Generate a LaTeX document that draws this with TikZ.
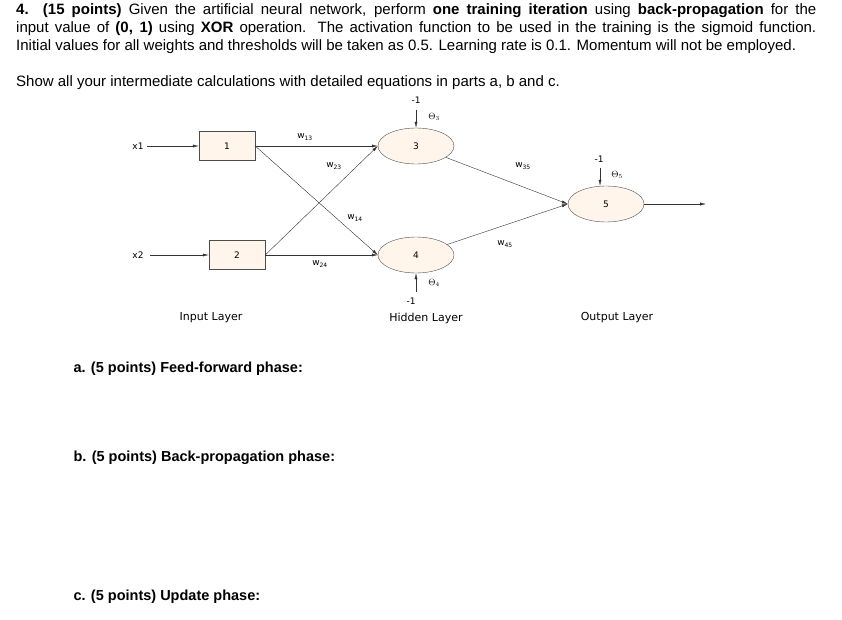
\documentclass[tikz,border=0pt]{standalone}
\usepackage{fontspec}
\setmainfont{Liberation Sans}
\newfontfamily\diag{DejaVu Sans}
\usetikzlibrary{arrows.meta, shapes.geometric}
\begin{document}
\begin{tikzpicture}[x=1pt, y=-1pt,
  inp/.style={rectangle, draw=black!70, fill=orange!8, minimum width=56pt, minimum height=29pt, font=\diag\fontsize{9}{10}\selectfont},
  neuron/.style={ellipse, draw=black!70, fill=orange!8, minimum width=76pt, minimum height=36pt, inner sep=0pt, font=\diag\fontsize{9}{10}\selectfont},
  lbl/.style={font=\diag\fontsize{9}{10}\selectfont},
  layer/.style={font=\diag\fontsize{11}{13}\selectfont},
  wire/.style={draw=black!80, -{Latex[length=6pt, width=3pt]}},
  part/.style={anchor=west, font=\bfseries\fontsize{14.5}{17}\selectfont}
]
\useasboundingbox (0,0) rectangle (842,620);

% question text
\node[anchor=north west, inner sep=0pt, text width=800pt, align=justify, font=\fontsize{15}{18}\selectfont] (Q) at (16,3)
 {\textbf{4. (15 points)} Given the artificial neural network, perform \textbf{one training iteration} using \textbf{back-propagation} for the\linebreak input value of \textbf{(0, 1)} using \textbf{XOR} operation. The activation function to be used in the training is the sigmoid function.\linebreak Initial values for all weights and thresholds will be taken as 0.5. Learning rate is 0.1. Momentum will not be employed.};
\node[anchor=west, inner sep=0pt, font=\fontsize{15}{18}\selectfont] (S) at (16,83)
 {Show all your intermediate calculations with detailed equations in parts a, b and c.};

% neurons
\node[inp] (n1) at (227,146) {1};
\node[inp] (n2) at (237,255) {2};
\node[neuron] (n3) at (416,146) {3};
\node[neuron] (n4) at (416,255) {4};
\node[neuron] (n5) at (606,204) {5};

% inputs, biases, output
\node[lbl] (x1) at (138,146) {x1};
\node[lbl] (x2) at (138,255) {x2};
\coordinate (b3) at (416,110);
\coordinate (b4) at (416,292);
\coordinate (b5) at (600,168);
\coordinate (out) at (706,204);
\node[lbl] (m3) at (416,100) {-1};
\node[lbl] (m4) at (411,301) {-1};
\node[lbl] (m5) at (599,159) {-1};
\node[lbl] (t3) at (434,117) {$\Theta_3$};
\node[lbl] (t4) at (434,283) {$\Theta_4$};
\node[lbl] (t5) at (617,175) {$\Theta_5$};

\draw[wire] (x1) -- (n1);
\draw[wire] (x2) ++(12,0) -- (n2);
\draw[wire] (b3) -- (n3);
\draw[wire] (b4) -- (n4);
\draw[wire] (b5) -- (n5.north -| b5);
\draw[wire] (n5) -- (out);

% weights
\draw[wire] (n1.east) -- (n3.west);
\draw[wire] (n1.east) -- (n4.west);
\draw[wire] (n2.east) -- (n3.west);
\draw[wire] (n2.east) -- (n4.west);
\draw[wire] (n3) -- (n5.west);
\draw[wire] (n4) -- (n5.west);

\node[lbl] (w13) at (305,137) {w\textsubscript{13}};
\node[lbl] (w23) at (334,166) {w\textsubscript{23}};
\node[lbl] (w14) at (355,218) {w\textsubscript{14}};
\node[lbl] (w24) at (320,264) {w\textsubscript{24}};
\node[lbl] (w35) at (523,166) {w\textsubscript{35}};
\node[lbl] (w45) at (505,244) {w\textsubscript{45}};

% layer names
\node[layer] (L1) at (211,318) {Input Layer};
\node[layer] (L2) at (426,318) {Hidden Layer};
\node[layer] (L3) at (617,318) {Output Layer};

% parts
\node[part] (pa) at (70,369) {a. (5 points) Feed-forward phase:};
\node[part] (pb) at (70,458) {b. (5 points) Back-propagation phase:};
\node[part] (pc) at (70,597) {c. (5 points) Update phase:};
\end{tikzpicture}
\end{document}
